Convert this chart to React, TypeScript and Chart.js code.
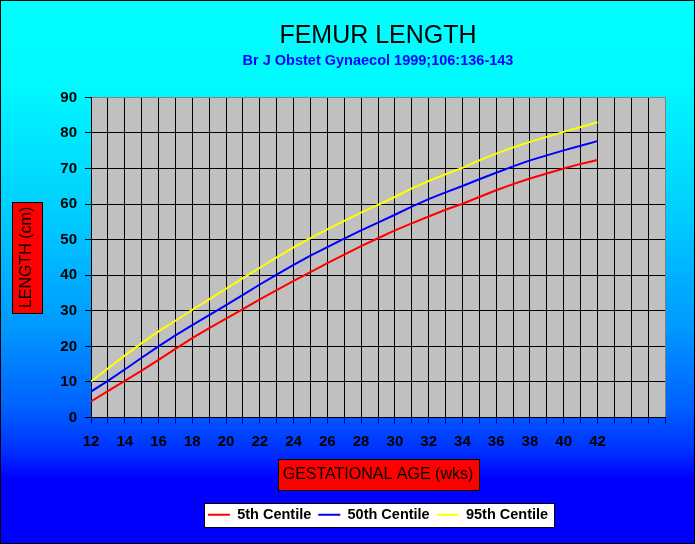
import React, { useEffect, useRef } from "react";
import { Chart, registerables } from "chart.js";

Chart.register(...registerables);

// ---- data (femur length, mm) ----
const weeks = [12, 13, 14, 15, 16, 17, 18, 19, 20, 21, 22, 23, 24, 25, 26, 27, 28, 29, 30, 31, 32, 33, 34, 35, 36, 37, 38, 39, 40, 41, 42];
const centile5 = [4.5, 7.4, 10.3, 13.2, 16.2, 19.3, 22.3, 25.1, 27.8, 30.5, 33.2, 35.8, 38.4, 40.9, 43.4, 45.8, 48.2, 50.4, 52.6, 54.6, 56.5, 58.4, 60.1, 62.0, 63.9, 65.6, 67.2, 68.6, 70.0, 71.3, 72.4];
const centile50 = [7.3, 10.3, 13.5, 16.8, 20.0, 23.1, 26.0, 28.8, 31.6, 34.5, 37.4, 40.2, 42.9, 45.5, 47.9, 50.3, 52.6, 54.8, 57.0, 59.3, 61.4, 63.3, 65.1, 67.0, 68.8, 70.6, 72.3, 73.7, 75.1, 76.4, 77.7];
const centile95 = [10.1, 13.8, 17.4, 20.9, 24.2, 27.2, 30.3, 33.2, 36.2, 39.2, 42.1, 45.0, 47.8, 50.4, 52.9, 55.3, 57.6, 59.8, 62.0, 64.4, 66.5, 68.4, 70.2, 72.3, 74.2, 75.9, 77.5, 78.9, 80.3, 81.7, 83.0];
const seriesNames = ["5th Centile", "50th Centile", "95th Centile"];
const labelledWeeks = [12, 14, 16, 18, 20, 22, 24, 26, 28, 30, 32, 34, 36, 38, 40, 42];
const xMin = 12;
const xMax = 46;
const yMin = 0;
const yMax = 90;

const titleText = "FEMUR LENGTH";
const subtitleText = "Br J Obstet Gynaecol 1999;106:136-143";
const xTitle = "GESTATIONAL AGE (wks)";
const yTitle = "LENGTH (cm)";

const FONT = '"Liberation Sans", Arial, Helvetica, sans-serif';
const X_TITLE_PB = 16;
const Y_TITLE_PT = 17;

function box(ctx: CanvasRenderingContext2D, x: number, y: number, w: number, h: number, fill: string) {
  const l = Math.round(x) + 0.5;
  const t = Math.round(y) + 0.5;
  const ww = Math.round(w);
  const hh = Math.round(h);
  ctx.fillStyle = fill;
  ctx.fillRect(l, t, ww, hh);
  ctx.strokeStyle = "#000000";
  ctx.lineWidth = 1;
  ctx.strokeRect(l, t, ww, hh);
}

const decorPlugin = {
  id: "decor",
  beforeDraw(chart: any) {
    const { ctx, width, height, chartArea } = chart;
    ctx.save();
    const g = ctx.createLinearGradient(0, 0, 0, height);
    g.addColorStop(0, "#00FFFF");
    g.addColorStop(0.15, "#00FAFF");
    g.addColorStop(0.4, "#00CCFF");
    g.addColorStop(0.6, "#0099FF");
    g.addColorStop(0.75, "#0060FF");
    g.addColorStop(0.83, "#0030FF");
    g.addColorStop(0.88, "#0000FF");
    g.addColorStop(1, "#0000FF");
    ctx.fillStyle = g;
    ctx.fillRect(0, 0, width, height);

    ctx.fillStyle = "#C0C0C0";
    ctx.fillRect(chartArea.left, chartArea.top, chartArea.right - chartArea.left, chartArea.bottom - chartArea.top);

    const xs = chart.scales.x;
    const ys = chart.scales.y;
    ctx.font = "16px " + FONT;
    const xw = ctx.measureText(xTitle).width;
    const xcx = (xs.left + xs.right) / 2;
    const xcy = xs.bottom - X_TITLE_PB - 9.6;
    box(ctx, xcx - xw / 2 - 5, xcy - 15.5, xw + 10, 31, "#FF0000");

    const yw = ctx.measureText(yTitle).width;
    const ycx = ys.left + Y_TITLE_PT + 9.6;
    const ycy = (ys.top + ys.bottom) / 2;
    box(ctx, ycx - 15, ycy - yw / 2 - 5, 30, yw + 10, "#FF0000");

    const hb = chart.legend && chart.legend.legendHitBoxes;
    if (hb && hb.length) {
      const first = hb[0];
      const last = hb[hb.length - 1];
      const cy = first.top + first.height / 2;
      const l = first.left - 3.5;
      const r = last.left + last.width + 6.5;
      box(ctx, l, cy - 12, r - l, 24, "#FFFFFF");
    }
    ctx.restore();
  },
  afterDraw(chart: any) {
    const { ctx, width, height } = chart;
    ctx.save();
    ctx.strokeStyle = "#000000";
    ctx.lineWidth = 1;
    ctx.strokeRect(0.5, 0.5, width - 1, height - 1);
    ctx.restore();
  },
};

export default function App() {
  const ref = useRef<HTMLCanvasElement | null>(null);

  useEffect(() => {
    document.body.style.margin = "0";
    const canvas = ref.current;
    if (!canvas) return;
    Chart.defaults.font.family = FONT;
    const mk = (vals: number[]) => weeks.map((w, i) => ({ x: w, y: vals[i] }));
    const colors = ["#FF0000", "#0000FF", "#FFFF00"];
    const chart = new Chart(canvas, {
      type: "line",
      data: {
        datasets: [centile5, centile50, centile95].map((vals, i) => ({
          label: seriesNames[i],
          data: mk(vals),
          borderColor: colors[i],
          backgroundColor: colors[i],
          borderWidth: 2,
          pointRadius: 0,
          pointHoverRadius: 0,
          tension: 0,
          fill: false,
        })),
      },
      plugins: [decorPlugin],
      options: {
        responsive: false,
        animation: false,
        devicePixelRatio: 1,
        layout: { padding: { left: 0, right: 30, top: 0, bottom: 12 } },
        plugins: {
          tooltip: { enabled: false },
          title: {
            display: true,
            text: titleText,
            color: "#000000",
            fullSize: false,
            font: { size: 25, weight: "normal", family: FONT },
            padding: { top: 21, bottom: 0 },
          },
          subtitle: {
            display: true,
            text: subtitleText,
            color: "#0000FF",
            fullSize: false,
            font: { size: 14.5, weight: "bold", family: FONT },
            padding: { top: 1, bottom: 28 },
          },
          legend: {
            display: true,
            position: "bottom",
            fullSize: false,
            labels: {
              boxWidth: 22,
              boxHeight: 2,
              padding: 7,
              color: "#000000",
              font: { size: 14.5, weight: "bold", family: FONT },
              generateLabels: (c: any) =>
                Chart.defaults.plugins.legend.labels.generateLabels(c).map((it: any) => ({ ...it, lineWidth: 0 })),
            },
          },
        },
        scales: {
          x: {
            type: "linear",
            min: xMin,
            max: xMax,
            afterFit: (s: any) => {
              s.height = 83;
            },
            ticks: {
              stepSize: 1,
              autoSkip: false,
              maxRotation: 0,
              padding: 9,
              color: "#000000",
              font: { size: 15, weight: "bold", family: FONT },
              callback: (v: any) => (labelledWeeks.includes(Number(v)) ? String(v) : ""),
            },
            grid: {
              color: (c: any) => (c.tick && c.tick.value === xMax ? "#808080" : "#000000"),
              tickColor: "#0000A0",
              tickLength: 6,
              lineWidth: 1,
            },
            border: { display: true, color: "#000000", width: 1 },
            title: {
              display: true,
              text: xTitle,
              color: "#000000",
              font: { size: 16, weight: "normal", family: FONT },
              padding: { top: 0, bottom: X_TITLE_PB },
            },
          },
          y: {
            type: "linear",
            min: yMin,
            max: yMax,
            afterFit: (s: any) => {
              s.width = 91;
            },
            ticks: {
              stepSize: 10,
              padding: 8,
              color: "#000000",
              font: { size: 15, weight: "bold", family: FONT },
            },
            grid: {
              color: (c: any) => (c.tick && c.tick.value === yMax ? "#808080" : "#000000"),
              tickColor: "#000000",
              tickLength: 6,
              lineWidth: 1,
            },
            border: { display: true, color: "#000000", width: 1 },
            title: {
              display: true,
              text: yTitle,
              color: "#000000",
              font: { size: 16, weight: "normal", family: FONT },
              padding: { top: Y_TITLE_PT, bottom: 0 },
            },
          },
        },
      },
    } as any);
    return () => chart.destroy();
  }, []);

  return (
    <div style={{ position: "absolute", left: 0, top: 0, width: 695, height: 544 }}>
      <canvas ref={ref} width={695} height={544} style={{ display: "block", width: 695, height: 544 }} />
    </div>
  );
}
